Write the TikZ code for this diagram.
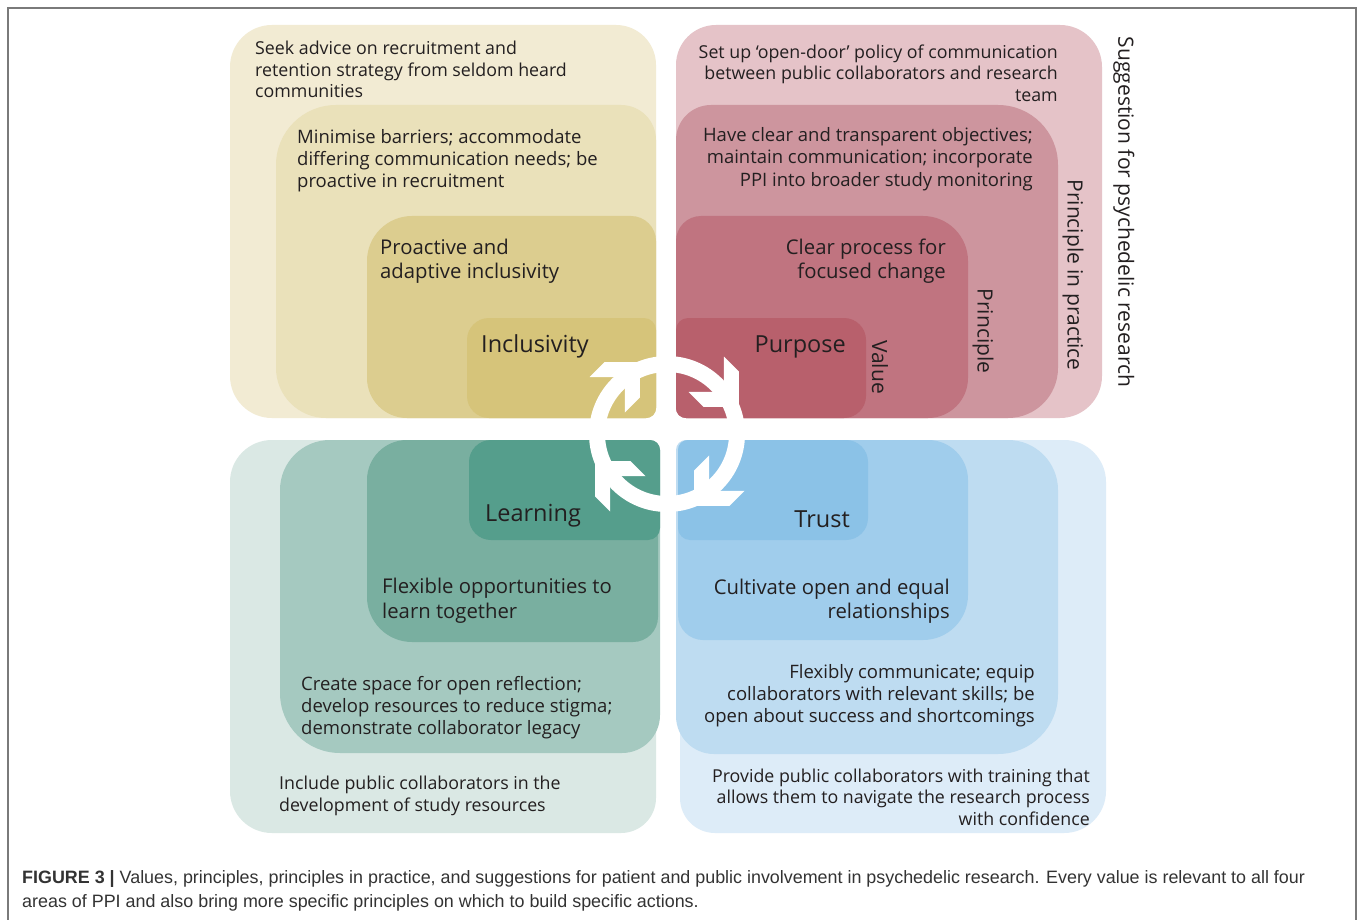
\documentclass[tikz,border=0pt]{standalone}
\usepackage{fontspec}
\usetikzlibrary{calc}

\newfontfamily\figfont{Open Sans}
\newfontfamily\capfont{Liberation Sans}

\definecolor{txtc}{HTML}{231F20}
\definecolor{framec}{HTML}{7A7A7A}
\definecolor{capc}{HTML}{333333}
\definecolor{yelA}{HTML}{F2EBD3}
\definecolor{yelB}{HTML}{EAE1BA}
\definecolor{yelC}{HTML}{DCCD8F}
\definecolor{yelD}{HTML}{D6C47A}
\definecolor{redA}{HTML}{E5C3C8}
\definecolor{redB}{HTML}{CD959E}
\definecolor{redC}{HTML}{C07480}
\definecolor{redD}{HTML}{B8606C}
\definecolor{grnA}{HTML}{DAE8E4}
\definecolor{grnB}{HTML}{A5C9C0}
\definecolor{grnC}{HTML}{79AFA0}
\definecolor{grnD}{HTML}{559E8C}
\definecolor{bluA}{HTML}{DDECF8}
\definecolor{bluB}{HTML}{BEDCF1}
\definecolor{bluC}{HTML}{A0CDEC}
\definecolor{bluD}{HTML}{8BC2E7}

% box: colour, x1, y1, x2, y2, radius tl, tr, br, bl
\newcommand\qbox[9]{%
  \fill[#1] ({(#2+#4)/2},#3) [rounded corners=#7pt] -- (#4,#3) -- (#4,{(#3+#5)/2})
    [rounded corners=#8pt] -- (#4,#5) -- ({(#2+#4)/2},#5)
    [rounded corners=#9pt] -- (#2,#5) -- (#2,{(#3+#5)/2})
    [rounded corners=#6pt] -- (#2,#3) -- cycle;}

\tikzset{
  sugtext/.style={inner sep=0pt, text=txtc, font=\figfont\fontsize{17.8}{21.5}\selectfont},
  piptext/.style={inner sep=0pt, text=txtc, font=\figfont\fontsize{18.5}{22.3}\selectfont},
  pritext/.style={inner sep=0pt, text=txtc, font=\figfont\fontsize{20.3}{24.5}\selectfont},
  valtext/.style={inner sep=0pt, text=txtc, font=\figfont\fontsize{23.5}{28}\selectfont},
  sidetext/.style={inner sep=0pt, text=txtc, rotate=-90, font=\figfont\fontsize{21}{24}\selectfont},
  ringline/.style={white, line width=16pt}
}

\begin{document}
\begin{tikzpicture}[x=1pt, y=-1pt]
  \clip (0,0) rectangle (1358,920);
  \fill[white] (0,0) rectangle (1358,920);
  \draw[framec, line width=1.5pt] (8,8) rectangle (1356,980);

  \qbox{yelA}{230}{25}{656}{418}{42}{40}{12}{42}
  \qbox{yelB}{276}{105}{656}{418}{60}{35}{10}{50}
  \qbox{yelC}{367}{216}{656}{418}{45}{25}{10}{40}
  \qbox{yelD}{467}{318}{656}{418}{22}{12}{10}{22}

  \qbox{redA}{676}{25}{1102}{418}{40}{42}{42}{12}
  \qbox{redB}{676}{105}{1058}{418}{35}{60}{50}{10}
  \qbox{redC}{676}{216}{968}{418}{25}{45}{40}{10}
  \qbox{redD}{676}{318}{866}{418}{12}{22}{22}{10}

  \qbox{grnA}{230}{440}{656}{833}{42}{12}{35}{42}
  \qbox{grnB}{280}{440}{660}{753}{50}{10}{38}{60}
  \qbox{grnC}{367}{440}{658}{642}{40}{10}{25}{45}
  \qbox{grnD}{469}{440}{660}{540}{22}{10}{12}{22}

  \qbox{bluA}{680}{440}{1106}{833}{12}{42}{42}{35}
  \qbox{bluB}{676}{440}{1058}{754}{10}{50}{60}{38}
  \qbox{bluC}{678}{440}{968}{640}{10}{40}{45}{25}
  \qbox{bluD}{678}{440}{868}{540}{10}{22}{22}{12}

  \coordinate (hub) at (667,434);
  \draw[ringline] (hub) circle[radius=70];
  \foreach \a in {45,135,225,315}
    \fill[white] ($(hub)+(\a:70)+(\a+90:31.6)$) -- ($(hub)+(\a:95)+(\a+90:6.6)$)
      -- ($(hub)+(\a:95)+(\a-90:14.6)$) -- ($(hub)+(\a:70)+(\a+90:10.4)$)
      -- ($(hub)+(\a:45)+(\a-90:14.6)$) -- ($(hub)+(\a:45)+(\a+90:6.6)$) -- cycle;

  \node[sugtext, anchor=west, align=left] (sugY) at (255,69.5)
    {Seek advice on recruitment and\\retention strategy from seldom heard\\communities};
  \node[piptext, anchor=west, align=left] (pipY) at (297,160.5)
    {Minimise barriers; accommodate\\differing communication needs; be\\proactive in recruitment};
  \node[pritext, anchor=west, align=left] (priY) at (380,261)
    {Proactive and\\adaptive inclusivity};
  \node[valtext, anchor=west] (valY) at (481,346.5) {Inclusivity};

  \node[sugtext, anchor=east, align=right] (sugR) at (1058,73)
    {Set up ‘open-door’ policy of communication\\between public collaborators and research\\team};
  \node[piptext, anchor=east, align=right] (pipR) at (1033,159)
    {Have clear and transparent objectives;\\maintain communication; incorporate\\PPI into broader study monitoring};
  \node[pritext, anchor=east, align=right] (priR) at (946,261)
    {Clear process for\\focused change};
  \node[valtext, anchor=east] (valR) at (846,346.5) {Purpose};

  \node[sidetext] (lblV) at (880,367) {Value};
  \node[sidetext] (lblP) at (983,331) {Principle};
  \node[sidetext] (lblPP) at (1073,275) {Principle in practice};
  \node[sidetext] (lblS) at (1124,212) {Suggestion for psychedelic research};

  \node[valtext, anchor=west] (valG) at (485,516) {Learning};
  \node[pritext, anchor=west, align=left] (priG) at (382,600.5)
    {Flexible opportunities to\\learn together};
  \node[piptext, anchor=west, align=left] (pipG) at (301,707.5)
    {Create space for open reflection;\\develop resources to reduce stigma;\\demonstrate collaborator legacy};
  \node[sugtext, anchor=west, align=left] (sugG) at (279,796)
    {Include public collaborators in the\\development of study resources};

  \node[valtext, anchor=east] (valB) at (850,519.5) {Trust};
  \node[pritext, anchor=east, align=right] (priB) at (950,601)
    {Cultivate open and equal\\relationships};
  \node[piptext, anchor=east, align=right] (pipB) at (1035,695.5)
    {Flexibly communicate; equip\\collaborators with relevant skills; be\\open about success and shortcomings};
  \node[sugtext, anchor=east, align=right] (sugB) at (1090,797)
    {Provide public collaborators with training that\\allows them to navigate the research process\\with confidence};

  \node[inner sep=0pt, anchor=west, align=left, text=capc,
        font=\capfont\fontsize{17.9}{24}\selectfont] (cap) at (22,891)
    {\textbf{FIGURE 3 |} Values, principles, principles in practice, and suggestions for patient and public involvement in psychedelic research. Every value is relevant to all four\\areas of PPI and also bring more specific principles on which to build specific actions.};
\end{tikzpicture}
\end{document}
